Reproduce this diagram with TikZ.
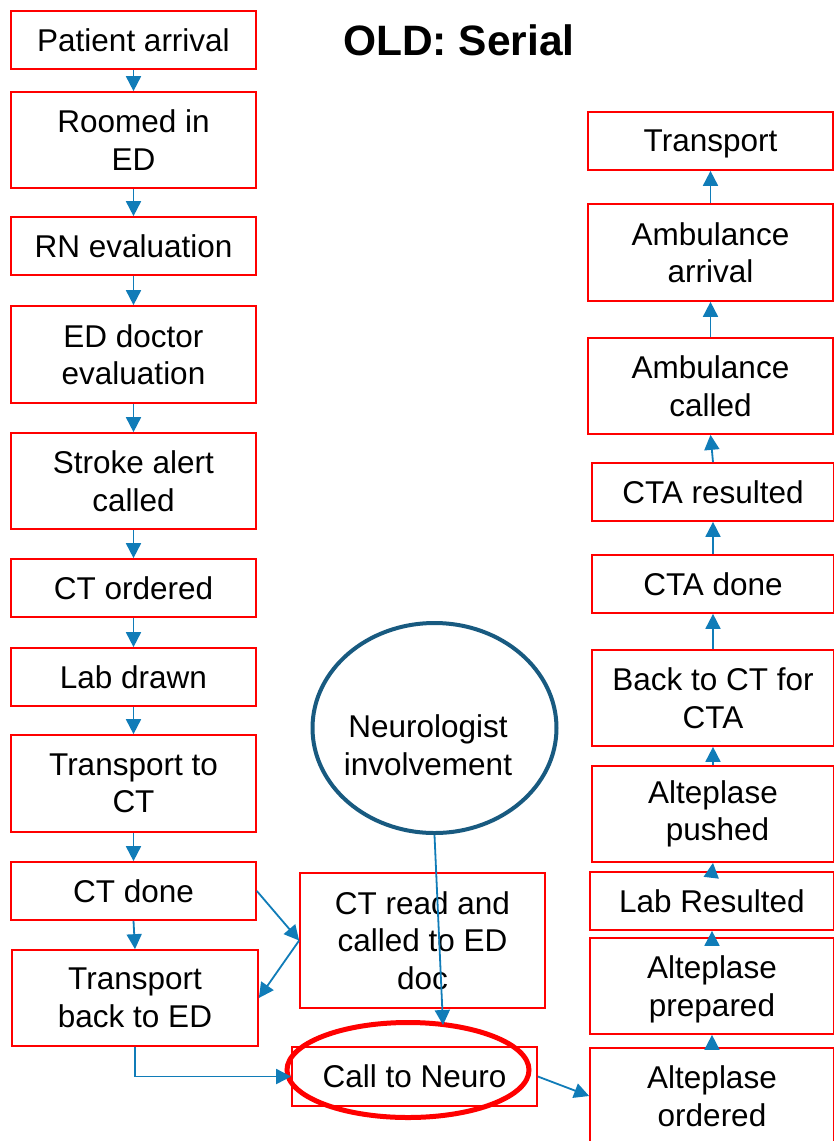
\documentclass[tikz,border=0pt]{standalone}
\usepackage{fontspec}
\setmainfont{Liberation Sans}
\usetikzlibrary{arrows.meta,shapes.geometric}
\definecolor{arr}{RGB}{16,124,184}
\definecolor{boxred}{RGB}{255,0,0}
\definecolor{neur}{RGB}{24,90,128}
\newcommand\nodepth[1]{\raisebox{0pt}[\height][0pt]{#1}}
\begin{document}
\begin{tikzpicture}[x=1pt,y=-1pt,
  txt/.style={align=center, inner sep=0pt, font=\fontsize{31.5}{37.5}\selectfont},
  stepbox/.style={txt, draw=boxred, line width=1.7pt, minimum width=245pt, fill=white},
  one/.style={stepbox, minimum height=58pt},
  two/.style={stepbox, minimum height=96pt},
  link/.style={draw=arr, line width=1.8pt, -{Triangle[length=15pt,width=15pt]}}]
\useasboundingbox[fill=white] (0,0) rectangle (834,1141);

% title
\node[font=\fontsize{42.5}{50}\selectfont\bfseries] (title) at (459,40) {OLD: Serial};

% left column
\node[one] (pa) at (133.5,40) {Patient arrival};
\node[two] (room) at (133.5,140) {Roomed in\\ED};
\node[one] (rn) at (133.5,246) {RN evaluation};
\node[two, minimum height=97pt] (edd) at (133.5,354.5) {ED doctor\\evaluation};
\node[two] (sa) at (133.5,481) {Stroke alert\\called};
\node[one] (cto) at (133.5,588) {CT ordered};
\node[one] (lab) at (133.5,677) {Lab drawn};
\node[two, minimum height=97pt] (tct) at (133.5,783.5) {Transport to\\CT};
\node[one] (ctd) at (133.5,891) {CT done};
\node[two, minimum width=246pt] (tbe) at (135,998) {Transport\\back to ED};

% middle
\node[stepbox, minimum height=135pt] (ctr) at (422.5,940.5) {CT read and\\called to ED\\doc};
\node[ellipse, draw=neur, line width=4pt, minimum width=244pt, minimum height=210pt, inner sep=0pt] (neuro) at (434.5,728) {};
\node[txt] (neurotxt) at (428,745) {Neurologist\\involvement};
\node[one, minimum height=59pt] (ctn) at (414.5,1076.5) {Call to Neuro};
\node[ellipse, draw=red, line width=5pt, minimum width=242pt, minimum height=95pt, inner sep=0pt] (ring) at (408,1070) {};
\coordinate (ntip) at (443,1025);

% right column
\node[one] (trans) at (710.5,141) {\nodepth{Transport}};
\node[two, minimum height=97pt] (amba) at (710.5,252.5) {Ambulance\\arrival};
\node[two] (ambc) at (710.5,386) {Ambulance\\called};
\node[one, minimum width=242pt] (ctar) at (713,492) {CTA resulted};
\node[one, minimum width=242pt] (ctad) at (713,584) {CTA done};
\node[two, minimum width=242pt] (back) at (713,698) {Back to CT for\\CTA};
\node[two, minimum width=242pt] (push) at (713,814) {Alteplase\\\hspace*{9pt}pushed};
\node[one, minimum width=244pt] (labr) at (712,901) {Lab Resulted};
\node[two, minimum width=244pt] (prep) at (712,986) {Alteplase\\\nodepth{prepared}};
\node[two, minimum width=244pt] (ord) at (712,1096) {Alteplase\\ordered};

% left arrows
\draw[link] (pa.south) -- (room.north);
\draw[link] (room.south) -- (rn.north);
\draw[link] (rn.south) -- (edd.north);
\draw[link] (edd.south) -- (sa.north);
\draw[link] (sa.south) -- (cto.north);
\draw[link] (cto.south) -- (lab.north);
\draw[link] (lab.south) -- (tct.north);
\draw[link] (tct.south) -- (ctd.north);
\draw[link] (ctd.south) -- (tbe.north);
\draw[link] (ctd.east) -- (ctr.west);
\draw[link] (ctr.west) -- (tbe.east);
\draw[link] (tbe.south) |- (ctn.west);
\draw[link] (neuro.south) -- (ntip);
\draw[link] (ctn.east) -- (ord.west);

% right arrows
\draw[link] (ord.north) -- (prep.south);
\draw[link] (prep.north) -- (labr.south);
\draw[link] (labr.north) -- (push.south);
\draw[link] (push.north) -- (back.south);
\draw[link] (back.north) -- (ctad.south);
\draw[link] (ctad.north) -- (ctar.south);
\draw[link] (ctar.north) -- (ambc.south);
\draw[link] (ambc.north) -- (amba.south);
\draw[link] (amba.north) -- (trans.south);
\end{tikzpicture}
\end{document}
